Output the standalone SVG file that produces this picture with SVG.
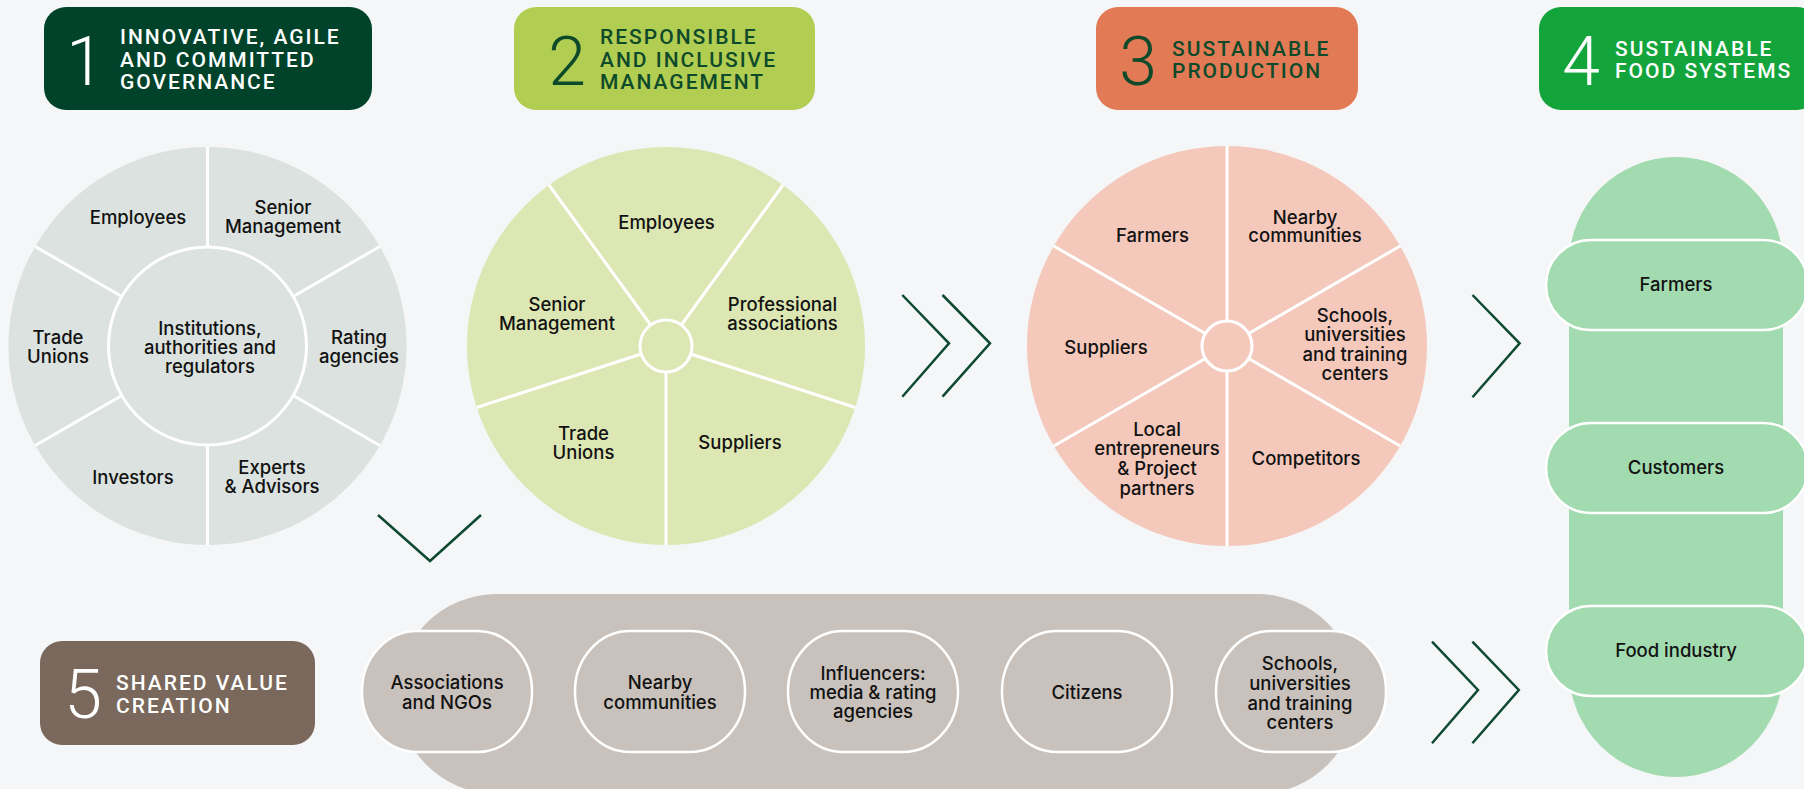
<svg xmlns="http://www.w3.org/2000/svg" width="1804" height="789" viewBox="0 0 1804 789">
  <style>
    .hd { font-family: Roboto, "Liberation Sans", sans-serif; font-weight: 500; font-size: 21px; letter-spacing: 2px; }
    .num { font-family: Roboto, "Liberation Sans", sans-serif; font-weight: 300; font-size: 68px; text-anchor: middle; }
    .lbl { font-family: Inter, "Liberation Sans", sans-serif; font-weight: 500; font-size: 18.5px; fill: #121212; text-anchor: middle; }
    .spoke { stroke: #ffffff; stroke-width: 3; fill: none; }
    .hub { stroke: #ffffff; stroke-width: 3; }
    .chev { fill: none; stroke: #0d4a2f; stroke-width: 2.5; }
    .pill { stroke: #ffffff; stroke-width: 2.5; }
  </style>

  <rect width="1804" height="789" fill="#f5f6f8"/>

  <!-- Header badges -->
  <g id="header-1">
    <rect x="44" y="7" width="328" height="103" rx="22" fill="#00432a"/>
    <text class="num" x="85" y="85" fill="#ffffff">1</text>
    <text class="hd" fill="#ffffff"><tspan x="120" y="44">INNOVATIVE, AGILE</tspan><tspan x="120" y="66.5">AND COMMITTED</tspan><tspan x="120" y="89">GOVERNANCE</tspan></text>
  </g>
  <g id="header-2">
    <rect x="514" y="7" width="301" height="103" rx="22" fill="#b1cd52"/>
    <text class="num" x="567" y="85" fill="#0d4a2a">2</text>
    <text class="hd" fill="#0d4a2a"><tspan x="600" y="44">RESPONSIBLE</tspan><tspan x="600" y="66.5">AND INCLUSIVE</tspan><tspan x="600" y="89">MANAGEMENT</tspan></text>
  </g>
  <g id="header-3">
    <rect x="1096" y="7" width="262" height="103" rx="22" fill="#e27a56"/>
    <text class="num" x="1138" y="85" fill="#0d4a2a">3</text>
    <text class="hd" fill="#0d4a2a"><tspan x="1172" y="55.5">SUSTAINABLE</tspan><tspan x="1172" y="78">PRODUCTION</tspan></text>
  </g>
  <g id="header-4">
    <rect x="1539" y="7" width="280" height="103" rx="22" fill="#13a43b"/>
    <text class="num" x="1581" y="85" fill="#ffffff">4</text>
    <text class="hd" fill="#ffffff"><tspan x="1615" y="55.5">SUSTAINABLE</tspan><tspan x="1615" y="78">FOOD SYSTEMS</tspan></text>
  </g>
  <g id="header-5">
    <rect x="40" y="641" width="275" height="104" rx="22" fill="#79685b"/>
    <text class="num" x="83" y="718" fill="#ffffff">5</text>
    <text class="hd" fill="#ffffff"><tspan x="116" y="690">SHARED VALUE</tspan><tspan x="116" y="713">CREATION</tspan></text>
  </g>

  <!-- Wheel 1: governance stakeholders -->
  <g id="wheel-governance">
    <circle cx="207.5" cy="346" r="199" fill="#dbe2df"/>
    <circle class="hub" cx="207.5" cy="346" r="99" fill="#dbe2df"/>
    <path class="spoke" d="M207.5 247V147 M293.2 296.5L379.8 246.5 M293.2 395.5L379.8 445.5 M207.5 445V545 M121.8 395.5L35.2 445.5 M121.8 296.5L35.2 246.5"/>
    <text class="lbl" x="138" y="224">Employees</text>
    <text class="lbl"><tspan x="283" y="214">Senior</tspan><tspan x="283" y="233">Management</tspan></text>
    <text class="lbl"><tspan x="58" y="344">Trade</tspan><tspan x="58" y="363">Unions</tspan></text>
    <text class="lbl"><tspan x="210" y="334.5">Institutions,</tspan><tspan x="210" y="353.5">authorities and</tspan><tspan x="210" y="373">regulators</tspan></text>
    <text class="lbl"><tspan x="359" y="344">Rating</tspan><tspan x="359" y="363">agencies</tspan></text>
    <text class="lbl" x="133" y="484">Investors</text>
    <text class="lbl"><tspan x="272" y="474">Experts</tspan><tspan x="272" y="493">&amp; Advisors</tspan></text>
  </g>

  <!-- Wheel 2: management stakeholders -->
  <g id="wheel-management">
    <circle cx="666" cy="346" r="199" fill="#dce7b3"/>
    <path class="spoke" d="M690.7 354L855.3 407.5 M666 372V545 M641.3 354L476.7 407.5 M650.7 325L549 185 M681.3 325L783 185"/>
    <circle class="hub" cx="666" cy="346" r="26" fill="#dce7b3"/>
    <text class="lbl" x="666.5" y="229">Employees</text>
    <text class="lbl"><tspan x="557" y="311">Senior</tspan><tspan x="557" y="330">Management</tspan></text>
    <text class="lbl"><tspan x="782.5" y="311">Professional</tspan><tspan x="782.5" y="330">associations</tspan></text>
    <text class="lbl"><tspan x="583.5" y="440">Trade</tspan><tspan x="583.5" y="459">Unions</tspan></text>
    <text class="lbl" x="740" y="449">Suppliers</text>
  </g>

  <!-- Wheel 3: production stakeholders -->
  <g id="wheel-production">
    <circle cx="1227" cy="346" r="200" fill="#f4c8bb"/>
    <path class="spoke" d="M1227 321V146 M1248.65 333.5L1400.2 246 M1248.65 358.5L1400.2 446 M1227 371V546 M1205.35 358.5L1053.8 446 M1205.35 333.5L1053.8 246"/>
    <circle class="hub" cx="1227" cy="346" r="25" fill="#f4c8bb"/>
    <text class="lbl" x="1152.5" y="242">Farmers</text>
    <text class="lbl"><tspan x="1305" y="223.5">Nearby</tspan><tspan x="1305" y="242">communities</tspan></text>
    <text class="lbl" x="1106" y="354">Suppliers</text>
    <text class="lbl"><tspan x="1355" y="322">Schools,</tspan><tspan x="1355" y="341">universities</tspan><tspan x="1355" y="360.5">and training</tspan><tspan x="1355" y="379.5">centers</tspan></text>
    <text class="lbl"><tspan x="1157" y="435.5">Local</tspan><tspan x="1157" y="455">entrepreneurs</tspan><tspan x="1157" y="474.5">&amp; Project</tspan><tspan x="1157" y="494.5">partners</tspan></text>
    <text class="lbl" x="1306" y="465">Competitors</text>
  </g>

  <!-- Column 4: food system stakeholders -->
  <g id="column-food-systems">
    <path d="M1569 264A107 107 0 0 1 1783 264V670A107 107 0 0 1 1569 670Z" fill="#a2dbb0"/>
    <g id="food-farmers">
      <rect class="pill" x="1546" y="240" width="262" height="90" rx="45" fill="#a2dbb0"/>
      <text class="lbl" x="1676" y="291">Farmers</text>
    </g>
    <g id="food-customers">
      <rect class="pill" x="1546" y="423" width="262" height="90" rx="45" fill="#a2dbb0"/>
      <text class="lbl" x="1676" y="474">Customers</text>
    </g>
    <g id="food-industry">
      <rect class="pill" x="1546" y="606" width="262" height="90" rx="45" fill="#a2dbb0"/>
      <text class="lbl" x="1676" y="657">Food industry</text>
    </g>
  </g>

  <!-- Band 5: shared value creation stakeholders -->
  <g id="band-shared-value">
    <rect x="397" y="594" width="960" height="200" rx="100" fill="#c9c2bc"/>
    <g id="shared-ngos">
      <rect class="pill" x="362" y="631" width="170" height="121" rx="55" ry="60" fill="#c9c2bc"/>
      <text class="lbl"><tspan x="447" y="689">Associations</tspan><tspan x="447" y="709">and NGOs</tspan></text>
    </g>
    <g id="shared-communities">
      <rect class="pill" x="575" y="631" width="170" height="121" rx="55" ry="60" fill="#c9c2bc"/>
      <text class="lbl"><tspan x="660" y="689">Nearby</tspan><tspan x="660" y="709">communities</tspan></text>
    </g>
    <g id="shared-influencers">
      <rect class="pill" x="788" y="631" width="170" height="121" rx="55" ry="60" fill="#c9c2bc"/>
      <text class="lbl"><tspan x="873" y="679.5">Influencers:</tspan><tspan x="873" y="699">media &amp; rating</tspan><tspan x="873" y="718">agencies</tspan></text>
    </g>
    <g id="shared-citizens">
      <rect class="pill" x="1002" y="631" width="170" height="121" rx="55" ry="60" fill="#c9c2bc"/>
      <text class="lbl" x="1087" y="699">Citizens</text>
    </g>
    <g id="shared-schools">
      <rect class="pill" x="1216" y="631" width="170" height="121" rx="55" ry="60" fill="#c9c2bc"/>
      <text class="lbl"><tspan x="1300" y="670">Schools,</tspan><tspan x="1300" y="689.5">universities</tspan><tspan x="1300" y="709.5">and training</tspan><tspan x="1300" y="728.5">centers</tspan></text>
    </g>
  </g>

  <!-- Flow chevrons -->
  <g id="connectors">
    <polyline class="chev" points="378,515 430,561 481,515"/>
    <polyline class="chev" points="902.3,295 949,343.3 902.3,396.7"/>
    <polyline class="chev" points="942.5,295 990,343.3 942.5,396.7"/>
    <polyline class="chev" points="1472.5,295 1519.6,343.3 1472.5,397.3"/>
    <polyline class="chev" points="1432,641.7 1478,690 1432,743.3"/>
    <polyline class="chev" points="1472.4,641.7 1518.8,690 1472.4,743.3"/>
  </g>
</svg>
